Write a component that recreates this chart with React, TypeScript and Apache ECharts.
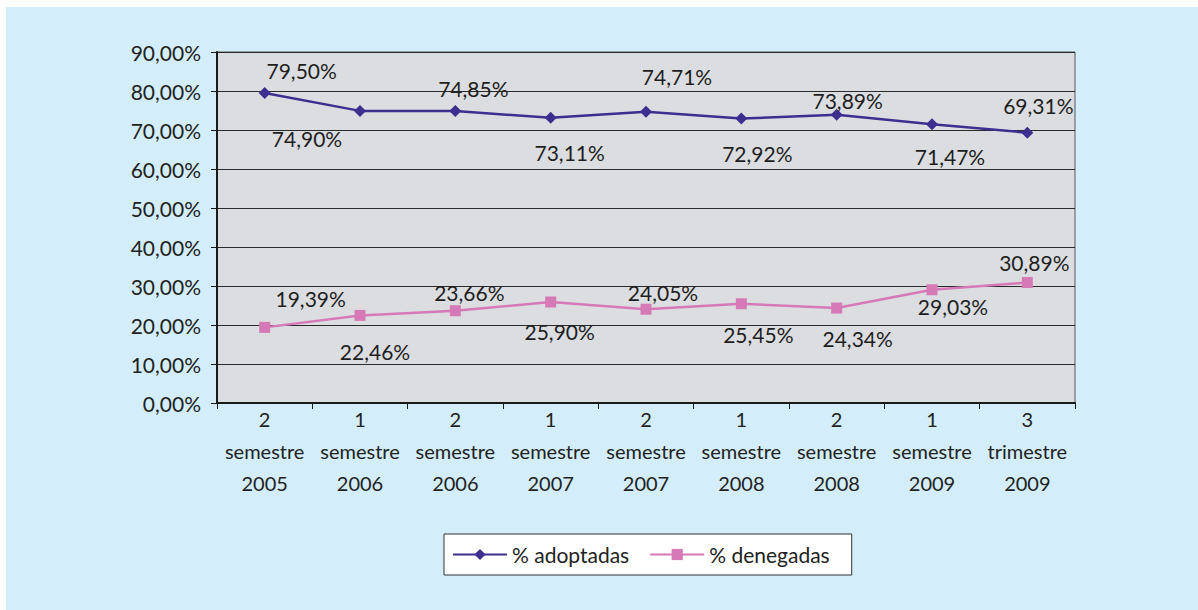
import React, { useEffect, useRef } from "react";
import * as echarts from "echarts";

const categories = [
  "2\nsemestre\n2005",
  "1\nsemestre\n2006",
  "2\nsemestre\n2006",
  "1\nsemestre\n2007",
  "2\nsemestre\n2007",
  "1\nsemestre\n2008",
  "2\nsemestre\n2008",
  "1\nsemestre\n2009",
  "3\ntrimestre\n2009",
];
const adoptadas = [79.5, 74.9, 74.85, 73.11, 74.71, 72.92, 73.89, 71.47, 69.31];
const denegadas = [19.39, 22.46, 23.66, 25.9, 24.05, 25.45, 24.34, 29.03, 30.89];

// label placement (pixel offsets from each point)
const adoptOffsets = [[37, -22], [-53, 28], [18, -23], [19, 35], [31, -35], [16, 35], [11, -14], [18, 32], [11, -27]];
const denOffsets = [[46, -29], [15, 36], [14, -18], [9, 30], [17, -17], [17, 31], [21, 30], [21, 17], [7, -20]];

const fmt = (v: number) => v.toFixed(2).replace(".", ",") + "%";
const FONT = "Lato, 'Open Sans', sans-serif";

export default function App() {
  const ref = useRef<HTMLDivElement>(null);
  useEffect(() => {
    const chart = echarts.init(ref.current!, null, { renderer: "svg" });
    const mk = (vals: number[], offs: number[][]) =>
      vals.map((v, i) => ({
        value: v,
        label: { offset: offs[i] },
      }));
    chart.setOption({
      animation: false,
      backgroundColor: "#ffffff",
      graphic: [
        { type: "rect", shape: { x: 6, y: 7, width: 1192, height: 603 }, style: { fill: "#d3eefa" }, z: -10 },
      ],
      grid: {
        left: 217, right: 123, top: 52, bottom: 207,
        show: true, backgroundColor: "#dcdde0", borderColor: "#55575c", borderWidth: 1,
      },
      legend: {
        bottom: 35,
        left: 444,
        itemWidth: 54,
        itemHeight: 14,
        itemGap: 20,
        padding: [10, 22, 10, 8],
        backgroundColor: "#ffffff",
        borderColor: "#333333",
        borderWidth: 1,
        textStyle: { fontFamily: FONT, fontSize: 21, color: "#222222" },
        data: ["% adoptadas", "% denegadas"],
      },
      xAxis: {
        type: "category",
        data: categories,
        boundaryGap: true,
        axisLine: { lineStyle: { color: "#1a1a1a", width: 2 } },
        axisTick: { show: true, length: 6, lineStyle: { color: "#1a1a1a", width: 1 } },
        axisLabel: {
          fontFamily: FONT, fontSize: 20, color: "#222222", lineHeight: 32, margin: 0,
          interval: 0,
        },
      },
      yAxis: {
        type: "value",
        min: 0, max: 90, interval: 10,
        axisLine: { show: true, lineStyle: { color: "#1a1a1a", width: 2 } },
        axisTick: { show: true, length: 6, lineStyle: { color: "#1a1a1a", width: 1 } },
        splitLine: { lineStyle: { color: "#2a2a2a", width: 1.2 } },
        axisLabel: {
          fontFamily: FONT, fontSize: 21, color: "#222222", margin: 16,
          formatter: (v: number) => fmt(v),
        },
      },
      series: [
        {
          name: "% adoptadas",
          type: "line",
          data: mk(adoptadas, adoptOffsets),
          symbol: "diamond",
          symbolSize: 12,
          itemStyle: { color: "#3d2f8f" },
          lineStyle: { color: "#3d2f8f", width: 2.5 },
          label: {
            show: true, position: "inside",
            fontFamily: FONT, fontSize: 21, color: "#1e1e1e",
            formatter: (p: any) => fmt(p.value),
          },
        },
        {
          name: "% denegadas",
          type: "line",
          data: mk(denegadas, denOffsets),
          symbol: "rect",
          symbolSize: 11,
          itemStyle: { color: "#d57ab6" },
          lineStyle: { color: "#d57ab6", width: 2.5 },
          label: {
            show: true, position: "inside",
            fontFamily: FONT, fontSize: 21, color: "#1e1e1e",
            formatter: (p: any) => fmt(p.value),
          },
        },
      ],
    });
    return () => chart.dispose();
  }, []);
  return (
    <div
      ref={ref}
      style={{ position: "fixed", left: 0, top: 0, width: 1198, height: 610 }}
    />
  );
}
